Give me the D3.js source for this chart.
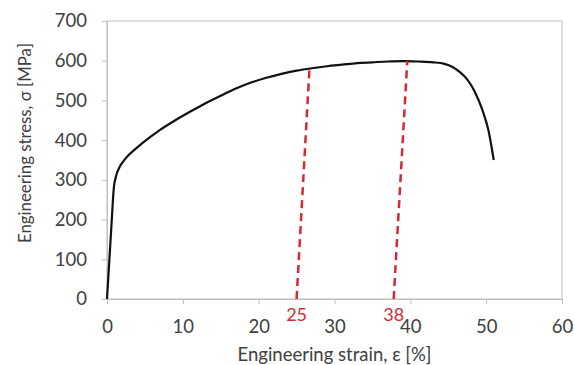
<!DOCTYPE html>
<html lang="en">
<head>
    <meta charset="UTF-8">
    <title>Engineering stress-strain curve</title>
    <script src="https://d3js.org/d3.v7.min.js"></script>
    <style>
        body { margin: 0; background: #fff; font-family: Lato, "Open Sans", sans-serif; }
        .tick text { fill: #404040; font-size: 18.5px; }
    </style>
</head>
<body>
    <div id="chart"></div>
    <script>
        // curve
        const strain = [0, 0.3, 0.6, 0.9, 1.2, 1.6, 2.2, 3.0, 4.0, 5.5, 7, 9, 11, 13, 15, 17, 19, 21, 23, 25, 27, 29, 31, 33, 35, 37, 39, 41, 43, 44.5, 45.5, 46.5, 47.5, 48.5, 49.5, 50.3, 51];
        const stress = [0, 95, 190, 280, 310, 330, 348, 365, 382, 405, 426, 450, 472, 493, 512, 530, 545, 557, 567, 575, 581, 586, 590, 594, 596, 598, 599, 598, 596, 592, 585, 572, 553, 522, 476, 425, 350];

        // red dashed markers: bottom strain, top strain, top stress
        const markLabels = ["25", "38"];
        const markBottom = [25, 37.8];
        const markTopStrain = [26.7, 39.6];
        const markTopStress = [580, 599];

        const xTicks = [0, 10, 20, 30, 40, 50, 60];
        const yTicks = [0, 100, 200, 300, 400, 500, 600, 700];

        const W = 574, H = 365;
        const margin = { top: 21, right: 12, bottom: 66, left: 107 };
        const width = W - margin.left - margin.right;
        const height = H - margin.top - margin.bottom;

        const svg = d3.select("#chart").append("svg")
            .attr("width", W).attr("height", H);
        const g = svg.append("g")
            .attr("transform", `translate(${margin.left},${margin.top})`);

        const x = d3.scaleLinear().domain([0, 60]).range([0, width]);
        const y = d3.scaleLinear().domain([0, 700]).range([height, 0]);

        // plot frame
        g.append("rect")
            .attr("x", 0).attr("y", 0)
            .attr("width", width).attr("height", height)
            .attr("fill", "none").attr("stroke", "#bfbfbf").attr("stroke-width", 1);

        const xAxis = g.append("g")
            .attr("transform", `translate(0,${height})`)
            .call(d3.axisBottom(x).tickValues(xTicks).tickSize(5).tickPadding(16));
        const yAxis = g.append("g")
            .call(d3.axisLeft(y).tickValues(yTicks).tickSize(5).tickPadding(15));
        [xAxis, yAxis].forEach(a => {
            a.select(".domain").attr("stroke", "#bfbfbf");
            a.selectAll(".tick line").attr("stroke", "#bfbfbf");
            a.selectAll("text").style("font-family", "Lato, sans-serif");
        });

        const pts = strain.map((s, i) => [s, stress[i]]);
        g.append("path")
            .datum(pts)
            .attr("fill", "none")
            .attr("stroke", "#111")
            .attr("stroke-width", 2.2)
            .attr("d", d3.line().x(d => x(d[0])).y(d => y(d[1])).curve(d3.curveMonotoneX));

        markBottom.forEach((b, i) => {
            g.append("line")
                .attr("x1", x(b)).attr("y1", y(0))
                .attr("x2", x(markTopStrain[i])).attr("y2", y(markTopStress[i]))
                .attr("stroke", "#d42a36").attr("stroke-width", 2.5)
                .attr("stroke-dasharray", "8,5");
            g.append("text")
                .attr("x", x(b)).attr("y", height + 22)
                .attr("text-anchor", "middle")
                .attr("fill", "#d42a36")
                .style("font-size", "18px")
                .text(markLabels[i]);
        });

        svg.append("text")
            .attr("x", margin.left + width / 2)
            .attr("y", H - 4)
            .attr("text-anchor", "middle")
            .attr("fill", "#404040")
            .style("font-size", "18.5px")
            .text("Engineering strain, ε [%]");

        svg.append("text")
            .attr("transform", `translate(31,143) rotate(-90)`)
            .attr("text-anchor", "middle")
            .attr("fill", "#404040")
            .style("font-size", "16.8px")
            .text("Engineering stress, σ [MPa]");
    </script>
</body>
</html>
